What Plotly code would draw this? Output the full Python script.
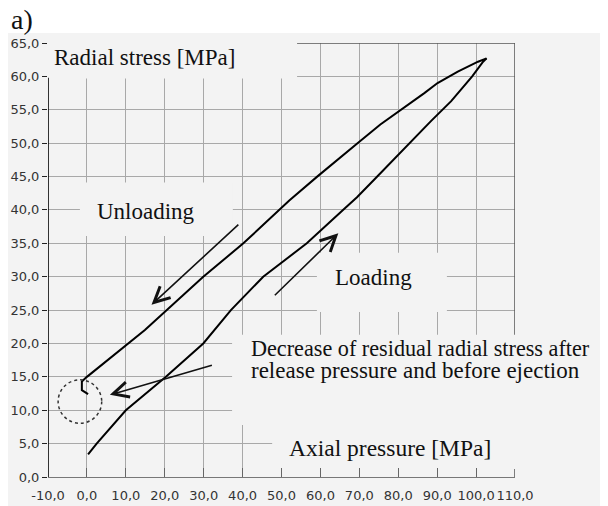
import plotly.graph_objects as go

# ---- data ----
loading_x = [0.3, 2.5, 10.0, 20.3, 29.9, 37.0, 45.3, 56.5, 65.8, 69.4, 74.6, 82.8, 88.4, 93.6, 99.0, 101.8, 102.7]
loading_y = [3.4, 5.0, 10.0, 15.0, 20.0, 25.0, 30.0, 35.0, 40.0, 41.9, 45.0, 50.0, 53.3, 56.3, 60.0, 62.2, 62.7]

unloading_x = [102.7, 100.5, 95.3, 90.1, 86.7, 80.6, 75.4, 70.0, 65.0, 59.4, 52.0, 40.2, 29.9, 19.6, 14.9, 0.0, -1.3, -1.3, 0.3]
unloading_y = [62.7, 62.2, 60.7, 59.0, 57.5, 55.0, 52.8, 50.2, 47.8, 45.1, 41.4, 35.0, 30.0, 24.5, 22.0, 15.0, 14.3, 13.0, 12.4]

x_ticks = [-10, 0, 10, 20, 30, 40, 50, 60, 70, 80, 90, 100, 110]
y_ticks = [0, 5, 10, 15, 20, 25, 30, 35, 40, 45, 50, 55, 60, 65]
x_labels = [f"{v:.1f}".replace(".", ",") for v in x_ticks]
y_labels = [f"{v:.1f}".replace(".", ",") for v in y_ticks]

BG = "#f3f3f3"
SERIF = "Liberation Serif"

fig = go.Figure()
fig.add_trace(go.Scatter(x=loading_x, y=loading_y, mode="lines",
                         line=dict(color="black", width=2), showlegend=False))
fig.add_trace(go.Scatter(x=unloading_x, y=unloading_y, mode="lines",
                         line=dict(color="black", width=2), showlegend=False))

shapes = []
# white band at the top of the page
shapes.append(dict(type="rect", xref="paper", yref="paper", x0=-0.2, x1=1.3, y0=1.023, y1=1.2,
                   fillcolor="white", line=dict(width=0), layer="below"))
# frame lines (top and right)
shapes.append(dict(type="line", xref="x", yref="y", x0=-10, x1=110, y0=65, y1=65,
                   line=dict(color="#555", width=1.5), layer="between"))
shapes.append(dict(type="line", xref="x", yref="y", x0=110, x1=110, y0=0, y1=65,
                   line=dict(color="#555", width=1.5), layer="between"))
# text backgrounds masking the grid
for (x0, x1, y0, y1) in [(-11, 54, 59.7, 66), (-1.8, 37.5, 36.1, 44.1), (59.1, 92.5, 24.7, 33.6),
                         (37.3, 115, 7.8, 21.3), (47.6, 115, 1.2, 7.8)]:
    shapes.append(dict(type="rect", xref="x", yref="y", x0=x0, x1=x1, y0=y0, y1=y1,
                       fillcolor=BG, line=dict(width=0), layer="between"))
# y axis line
shapes.append(dict(type="line", xref="x", yref="y", x0=-10, x1=-10, y0=0, y1=59.8,
                   line=dict(color="black", width=1.6), layer="above"))
# dotted circle
shapes.append(dict(type="circle", xref="x", yref="y", x0=-7.4, x1=3.8, y0=8.05, y1=14.55,
                   line=dict(color="#333", width=1.5, dash="dot"), layer="above"))

annotations = []
def txt(x, y, s, size=23, xref="x", yref="y"):
    annotations.append(dict(x=x, y=y, xref=xref, yref=yref, text=s, showarrow=False,
                            xanchor="left", yanchor="middle",
                            font=dict(family=SERIF, size=size, color="#111")))

txt(-9.0, 62.9, "Radial stress [MPa]")
txt(2.1, 39.7, "Unloading")
txt(63.3, 29.9, "Loading")
txt(41.7, 19.2, "Decrease of residual radial stress after", size=22.2)
txt(41.7, 16.0, "release pressure and before ejection")
txt(51.5, 4.3, "Axial pressure [MPa]", size=23.5)
txt(-0.084, 1.053, "a)", size=28, xref="paper", yref="paper")

def arrow(tx, ty, hx, hy):
    annotations.append(dict(x=hx, y=hy, ax=tx, ay=ty, xref="x", yref="y", axref="x", ayref="y",
                            text="", showarrow=True, arrowhead=5, arrowsize=1.9, arrowwidth=1.6,
                            arrowcolor="#111", standoff=0, startstandoff=0))

arrow(39.3, 38.0, 16.6, 25.8)
arrow(47.9, 27.0, 64.6, 36.5)
arrow(32.5, 16.8, 5.9, 12.3)

# the page body adds an 8px offset, so the figure is 8px smaller than the window
fig.update_layout(
    width=600, height=498,
    margin=dict(l=40, r=93, t=35, b=29),
    paper_bgcolor=BG, plot_bgcolor=BG,
    shapes=shapes, annotations=annotations, showlegend=False,
    xaxis=dict(range=[-10, 110], tickmode="array", tickvals=x_ticks, ticktext=x_labels,
               tickangle=0, showgrid=True, gridcolor="#a8a8a8", gridwidth=1, zeroline=False,
               showline=True, linecolor="#777", linewidth=1.2, automargin=False,
               ticks="inside", ticklen=9, tickcolor="#666", ticklabelstandoff=6,
               tickfont=dict(family="DejaVu Sans", size=13, color="#333")),
    yaxis=dict(range=[0, 65], tickmode="array", tickvals=y_ticks, ticktext=y_labels,
               showgrid=True, gridcolor="#a8a8a8", gridwidth=1, zeroline=False, automargin=False,
               showline=False, ticks="outside", ticklen=5, tickcolor="#222",
               tickfont=dict(family="DejaVu Sans", size=13, color="#333")),
)

fig.write_html("out.html")
